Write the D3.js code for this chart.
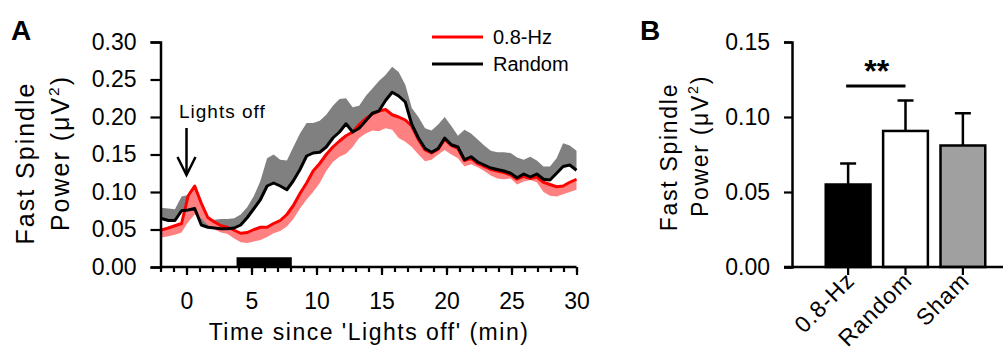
<!DOCTYPE html>
<html>
<head>
<meta charset="utf-8">
<script src="https://cdn.jsdelivr.net/npm/d3@7"></script>
<style>
  body { margin: 0; background: #fff; }
  svg text { font-family: Arial, "Liberation Sans", sans-serif; fill: #000; }
</style>
</head>
<body>
<div id="chart"></div>
<script>
// Panel A: time course (min since lights off)
var times = [-2, -1.39, -0.89, -0.38, 0.13, 0.63, 1.14, 1.64, 2.15, 2.66, 3.16, 3.67, 4.17, 4.68,
  5.19, 5.69, 6.2, 6.7, 7.21, 7.72, 8.22, 8.73, 9.24, 9.74, 10.25, 10.75, 11.26, 11.77, 12.27,
  12.78, 13.28, 13.79, 14.3, 14.8, 15.31, 15.82, 16.32, 16.83, 17.33, 17.84, 18.35, 18.85,
  19.36, 19.86, 20.37, 20.88, 21.38, 21.89, 22.4, 22.9, 23.41, 23.91, 24.42, 24.93, 25.43,
  25.94, 26.44, 26.95, 27.46, 27.96, 28.47, 28.97, 29.48, 30];

var randomMean = [0.065, 0.062, 0.062, 0.075, 0.076, 0.078, 0.056, 0.053, 0.052, 0.051, 0.051,
  0.052, 0.056, 0.066, 0.078, 0.090, 0.108, 0.112, 0.108, 0.103, 0.115, 0.130, 0.148, 0.152,
  0.153, 0.160, 0.172, 0.180, 0.191, 0.180, 0.185, 0.195, 0.205, 0.208, 0.222, 0.233, 0.228,
  0.220, 0.190, 0.172, 0.158, 0.153, 0.158, 0.172, 0.163, 0.160, 0.143, 0.147, 0.140, 0.136,
  0.132, 0.130, 0.128, 0.125, 0.119, 0.124, 0.120, 0.124, 0.117, 0.116, 0.125, 0.134, 0.136, 0.129];

var randomUpper = [0.079, 0.078, 0.077, 0.094, 0.096, 0.096, 0.065, 0.063, 0.063, 0.064, 0.064,
  0.065, 0.070, 0.080, 0.095, 0.115, 0.145, 0.150, 0.143, 0.142, 0.160, 0.178, 0.192, 0.192,
  0.195, 0.203, 0.215, 0.224, 0.225, 0.213, 0.215, 0.228, 0.238, 0.248, 0.256, 0.267, 0.260,
  0.243, 0.212, 0.200, 0.185, 0.182, 0.190, 0.200, 0.188, 0.175, 0.183, 0.178, 0.170, 0.162,
  0.155, 0.153, 0.153, 0.152, 0.146, 0.143, 0.147, 0.142, 0.134, 0.134, 0.145, 0.165, 0.162, 0.155];

var hzMean = [0.049, 0.052, 0.055, 0.058, 0.095, 0.108, 0.085, 0.066, 0.060, 0.055, 0.053,
  0.049, 0.045, 0.046, 0.050, 0.053, 0.053, 0.058, 0.062, 0.070, 0.082, 0.098, 0.112, 0.128,
  0.138, 0.150, 0.160, 0.168, 0.175, 0.180, 0.190, 0.198, 0.204, 0.208, 0.210, 0.203, 0.200,
  0.196, 0.188, 0.170, 0.156, 0.152, 0.157, 0.170, 0.162, 0.158, 0.142, 0.145, 0.138, 0.134,
  0.130, 0.128, 0.126, 0.123, 0.117, 0.121, 0.118, 0.120, 0.113, 0.110, 0.107, 0.108, 0.113, 0.117];

var hzLower = [0.039, 0.041, 0.043, 0.046, 0.060, 0.070, 0.065, 0.056, 0.050, 0.046, 0.044,
  0.038, 0.033, 0.032, 0.034, 0.036, 0.040, 0.045, 0.048, 0.054, 0.064, 0.078, 0.090, 0.100,
  0.112, 0.128, 0.140, 0.147, 0.151, 0.160, 0.172, 0.178, 0.182, 0.181, 0.185, 0.183, 0.172,
  0.167, 0.160, 0.150, 0.141, 0.143, 0.150, 0.156, 0.150, 0.145, 0.134, 0.137, 0.133, 0.128,
  0.122, 0.118, 0.117, 0.118, 0.110, 0.114, 0.116, 0.113, 0.100, 0.095, 0.094, 0.097, 0.100, 0.103];

var stimWindow = [3.85, 8.1];
var stimHeight = 0.013;
var yTicksA = [0, 0.05, 0.10, 0.15, 0.20, 0.25, 0.30];
var xTicksA = [0, 5, 10, 15, 20, 25, 30];
var legendNames = ["0.8-Hz", "Random"];

// Panel B: bars with SEM
var groups = ["0.8-Hz", "Random", "Sham"];
var barMeans = [0.055, 0.0907, 0.081];
var barSem = [0.014, 0.0203, 0.0215];
var barFill = ["#000000", "#ffffff", "#a0a0a0"];
var yTicksB = [0, 0.05, 0.10, 0.15];

var W = 1007, H = 364;
var svg = d3.select("#chart").append("svg")
    .attr("width", W)
    .attr("height", H);

var fmt = d3.format(".2f");

function styleAxis(g, size) {
  g.select(".domain").attr("stroke-width", 2.5).attr("stroke", "#000");
  g.selectAll(".tick line").attr("stroke-width", 2.2).attr("stroke", "#000");
  g.selectAll("text").attr("font-size", size).attr("font-family", "Arial, 'Liberation Sans', sans-serif");
}

// two-line rotated axis title
function yLabel(g, x1, c1, x2, c2, size, spacing) {
  g.append("text")
      .attr("transform", "translate(" + x1 + "," + c1 + ") rotate(-90)")
      .attr("text-anchor", "middle")
      .attr("font-size", size)
      .attr("letter-spacing", spacing)
      .text("Fast Spindle");
  var t = g.append("text")
      .attr("transform", "translate(" + x2 + "," + c2 + ") rotate(-90)")
      .attr("text-anchor", "middle")
      .attr("font-size", size)
      .attr("letter-spacing", spacing);
  t.append("tspan").text("Power (\u03bcV");
  t.append("tspan").attr("font-size", size * 0.62).attr("dy", -size * 0.42).text("2");
  t.append("tspan").attr("dy", size * 0.42).text(")");
}

///////////////////////// Panel A
var xA = d3.scaleLinear().domain([-2, 30]).range([160.5, 576.5]);
var yA = d3.scaleLinear().domain([0, 0.30]).range([267, 42]);

var pts = times.map(function(t, i) {
  return { t: t, rm: randomMean[i], ru: randomUpper[i], hm: hzMean[i], hl: hzLower[i] };
});

var gA = svg.append("g");

// error bands (one sided)
gA.append("path")
    .datum(pts)
    .attr("fill", "#808080")
    .attr("d", d3.area()
      .x(function(d) { return xA(d.t); })
      .y0(function(d) { return yA(d.rm); })
      .y1(function(d) { return yA(d.ru); }));

gA.append("path")
    .datum(pts)
    .attr("fill", "#ff8080")
    .attr("d", d3.area()
      .x(function(d) { return xA(d.t); })
      .y0(function(d) { return yA(d.hl); })
      .y1(function(d) { return yA(d.hm); }));

// mean lines
gA.append("path")
    .datum(pts)
    .attr("fill", "none")
    .attr("stroke", "#ff0000")
    .attr("stroke-width", 3)
    .attr("stroke-linejoin", "round")
    .attr("d", d3.line()
      .x(function(d) { return xA(d.t); })
      .y(function(d) { return yA(d.hm); }));

gA.append("path")
    .datum(pts)
    .attr("fill", "none")
    .attr("stroke", "#000")
    .attr("stroke-width", 3)
    .attr("stroke-linejoin", "round")
    .attr("d", d3.line()
      .x(function(d) { return xA(d.t); })
      .y(function(d) { return yA(d.rm); }));

// stimulation bar
gA.append("rect")
    .attr("x", xA(stimWindow[0]))
    .attr("y", yA(stimHeight))
    .attr("width", xA(stimWindow[1]) - xA(stimWindow[0]))
    .attr("height", yA(0) - yA(stimHeight))
    .attr("fill", "#000");

// axes
var yAxisA = d3.axisLeft(yA).tickValues(yTicksA).tickSize(10).tickPadding(14).tickFormat(fmt);
var gy = gA.append("g").attr("transform", "translate(" + xA(-2) + ",0)").call(yAxisA);

var xAxisMinor = d3.axisBottom(xA).tickValues(d3.range(-2, 31, 1)).tickSize(5).tickFormat("");
var xAxisA = d3.axisBottom(xA).tickValues(xTicksA).tickSize(8).tickPadding(18).tickFormat(d3.format("d"));
var gx1 = gA.append("g").attr("transform", "translate(0," + yA(0) + ")").call(xAxisMinor);
var gx = gA.append("g").attr("transform", "translate(0," + yA(0) + ")").call(xAxisA);

[gy, gx1, gx].forEach(function(g) { styleAxis(g, 23); });
gx1.select(".domain").attr("d", "M" + xA(-2) + ",0H" + xA(30));
gx.select(".domain").remove();

gA.append("text")
    .attr("x", 369)
    .attr("y", 340)
    .attr("text-anchor", "middle")
    .attr("font-size", 23)
    .attr("letter-spacing", 1.5)
    .text("Time since 'Lights off' (min)");

yLabel(gA, 34, 163, 69, 153, 25, 2);

gA.append("text")
    .attr("x", 11).attr("y", 40)
    .attr("font-size", 28).attr("font-weight", "bold")
    .text("A");

// lights off annotation
gA.append("text")
    .attr("x", 179).attr("y", 118)
    .attr("font-size", 19)
    .attr("letter-spacing", 1)
    .text("Lights off");
gA.append("line")
    .attr("x1", xA(0)).attr("x2", xA(0))
    .attr("y1", 128).attr("y2", 174)
    .attr("stroke", "#000").attr("stroke-width", 2.5);
gA.append("path")
    .attr("d", "M" + (xA(0) - 9) + ",157L" + xA(0) + ",175L" + (xA(0) + 9) + ",157")
    .attr("fill", "none").attr("stroke", "#000").attr("stroke-width", 2.5);

// legend
var legColor = ["#ff0000", "#000000"];
legendNames.forEach(function(name, i) {
  var ly = 37 + i * 27;
  gA.append("line")
      .attr("x1", 432).attr("x2", 483)
      .attr("y1", ly).attr("y2", ly)
      .attr("stroke", legColor[i]).attr("stroke-width", 3);
  gA.append("text")
      .attr("x", 493).attr("y", ly + 7)
      .attr("font-size", 20)
      .text(name);
});

///////////////////////// Panel B
var xB = d3.scaleBand().domain(groups).range([820, 991]).paddingInner(0.22).paddingOuter(0.1);
var yB = d3.scaleLinear().domain([0, 0.15]).range([267, 42]);
var cx = function(d) { return xB(d) + xB.bandwidth() / 2; };

var gB = svg.append("g");

// error bars first, the bars cover their lower half
gB.selectAll(".err")
  .data(groups)
  .enter().append("line")
    .attr("x1", cx).attr("x2", cx)
    .attr("y1", function(d, i) { return yB(barMeans[i]); })
    .attr("y2", function(d, i) { return yB(barMeans[i] + barSem[i]); })
    .attr("stroke", "#000").attr("stroke-width", 2.5);
gB.selectAll(".cap")
  .data(groups)
  .enter().append("line")
    .attr("x1", function(d) { return cx(d) - 8; })
    .attr("x2", function(d) { return cx(d) + 8; })
    .attr("y1", function(d, i) { return yB(barMeans[i] + barSem[i]); })
    .attr("y2", function(d, i) { return yB(barMeans[i] + barSem[i]); })
    .attr("stroke", "#000").attr("stroke-width", 2.5);

gB.selectAll(".bar")
  .data(groups)
  .enter().append("rect")
    .attr("x", function(d) { return xB(d); })
    .attr("y", function(d, i) { return yB(barMeans[i]); })
    .attr("width", xB.bandwidth())
    .attr("height", function(d, i) { return yB(0) - yB(barMeans[i]); })
    .attr("fill", function(d, i) { return barFill[i]; })
    .attr("stroke", "#000").attr("stroke-width", 2.5);

var yAxisB = d3.axisLeft(yB).tickValues(yTicksB).tickSize(8).tickPadding(14).tickFormat(fmt);
var gyB = gB.append("g").attr("transform", "translate(792,0)").call(yAxisB);
var xAxisB = d3.axisBottom(xB).tickSize(8).tickFormat("");
var gxB = gB.append("g").attr("transform", "translate(0," + yB(0) + ")").call(xAxisB);
[gyB, gxB].forEach(function(g) { styleAxis(g, 23); });
gxB.select(".domain").attr("d", "M784,0H1003");

gB.selectAll(".xlab")
  .data(groups)
  .enter().append("text")
    .attr("text-anchor", "end")
    .attr("font-size", 23)
    .attr("letter-spacing", 1)
    .attr("transform", function(d) {
      return "translate(" + (cx(d) + 8) + ",282) rotate(-45)";
    })
    .text(function(d) { return d; });

yLabel(gB, 677, 157, 708, 146, 23, 1.7);

gB.append("text")
    .attr("x", 640).attr("y", 40)
    .attr("font-size", 28).attr("font-weight", "bold")
    .text("B");

// significance bracket
var c0 = cx(groups[0]), c1 = cx(groups[1]);
gB.append("line")
    .attr("x1", c0 - 2).attr("x2", c1)
    .attr("y1", 86).attr("y2", 86)
    .attr("stroke", "#000").attr("stroke-width", 3);
gB.append("text")
    .attr("x", (c0 + c1) / 2).attr("y", 82)
    .attr("text-anchor", "middle")
    .attr("font-size", 32).attr("font-weight", "bold")
    .text("**");
</script>
</body>
</html>
